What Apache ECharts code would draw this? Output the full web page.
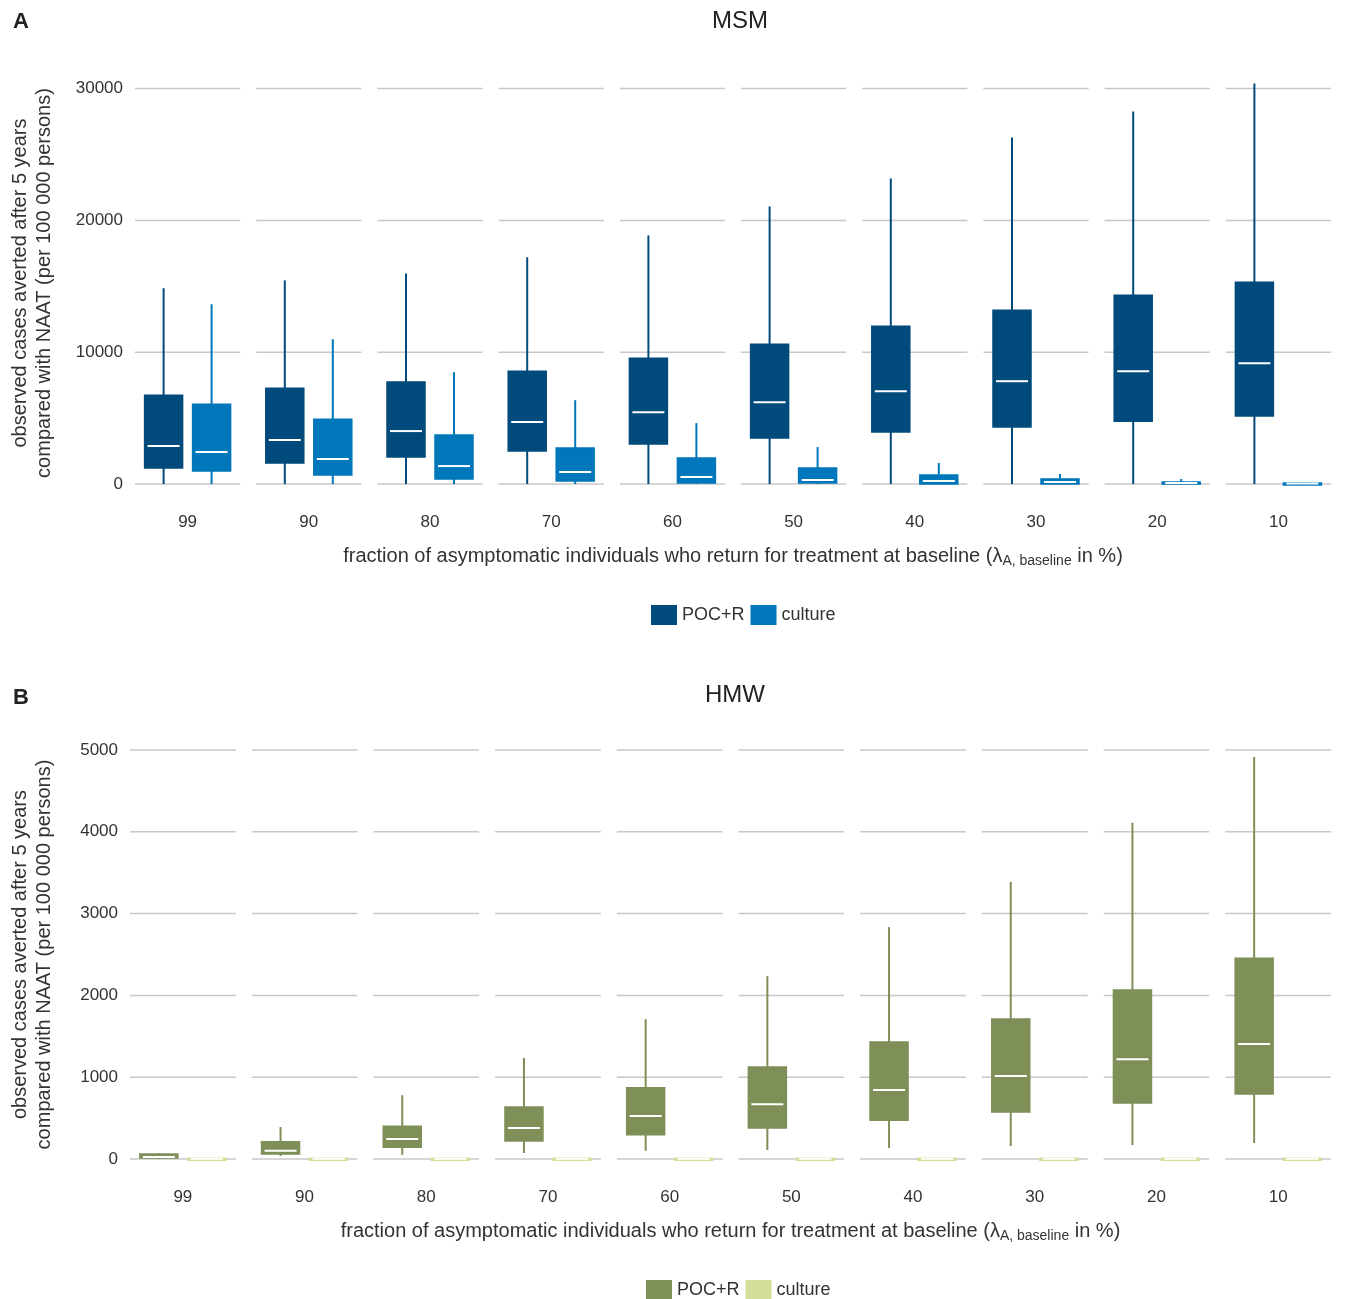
<!DOCTYPE html>
<html><head><meta charset="utf-8">
<script src="https://cdn.jsdelivr.net/npm/echarts@6/dist/echarts.min.js"></script>
<style>html,body{margin:0;background:#fff}#c{width:1347px;height:1299px}</style>
</head><body><div id="c"></div>
<script>
const categories = ['99', '90', '80', '70', '60', '50', '40', '30', '20', '10'];
// [min, q1, median, q3, max]
const msmPoc = [
  [0, 1210, 2880, 6740, 14850], [0, 1590, 3330, 7270, 15450], [0, 2045, 4015, 7730, 15980],
  [0, 2500, 4700, 8560, 17200], [0, 3030, 5450, 9545, 18860], [0, 3485, 6210, 10600, 21060],
  [0, 3940, 7045, 11970, 23180], [0, 4320, 7800, 13180, 26290], [0, 4770, 8560, 14320, 28260],
  [0, 5150, 9170, 15300, 30380]
];
const msmCulture = [
  [0, 985, 2420, 6060, 13640], [0, 680, 1890, 4920, 10985], [0, 380, 1360, 3710, 8480],
  [0, 230, 910, 2730, 6360], [0, 75, 530, 1970, 4620], [0, 75, 300, 1210, 2800],
  [0, 0, 230, 680, 1590], [0, 0, 150, 380, 760], [0, 0, 75, 150, 380], [0, 0, 40, 75, 150]
];
const hmwPoc = [
  [0, 12, 25, 60, 73], [37, 60, 100, 210, 390], [50, 145, 245, 400, 780],
  [73, 220, 380, 635, 1235], [100, 295, 525, 870, 1710], [110, 380, 670, 1125, 2235],
  [135, 475, 845, 1430, 2835], [160, 575, 1015, 1710, 3385], [170, 685, 1220, 2065, 4110],
  [195, 795, 1405, 2455, 4915]
];
const hmwCulture = categories.map(() => [0, 0, 4, 8, 12]);
const msmTicks = [0, 10000, 20000, 30000];
const hmwTicks = [0, 1000, 2000, 3000, 4000, 5000];

const yName = 'observed cases averted after 5 years\ncompared with NAAT (per 100 000 persons)';
const xName = 'fraction of asymptomatic individuals who return for treatment at baseline (λ{sub|A, baseline} in %)';

function boxRender(offset) {
  return function (params, api) {
    const x = api.value(0);
    const c = api.coord([x, 0])[0] + offset;
    const w = 38;
    const p = [1, 2, 3, 4, 5].map(i => api.coord([x, api.value(i)])[1]);
    const col = api.visual('color');
    return {
      type: 'group', children: [
        { type: 'line', shape: { x1: c, y1: p[0], x2: c, y2: p[4] }, style: { stroke: col, lineWidth: 2 } },
        { type: 'rect', shape: { x: c - w / 2, y: p[3], width: w, height: Math.max(p[1] - p[3], 2) },
          style: { fill: col, stroke: col, lineWidth: 1.5 } },
        { type: 'line', shape: { x1: c - w / 2 + 3, y1: p[2], x2: c + w / 2 - 3, y2: p[2] }, style: { stroke: '#fff', lineWidth: 2 } }
      ]
    };
  };
}
function gridRender(ticks) {
  return function (params, api) {
    const x = api.value(0);
    const c = api.coord([x, 0])[0];
    const bw = api.size([1, 0])[0];
    return {
      type: 'group', children: ticks.map(t => {
        const y = api.coord([x, t])[1];
        return { type: 'line', shape: { x1: c - bw / 2 + 8, y1: y, x2: c + bw / 2 - 8, y2: y }, style: { stroke: '#c8c8c8', lineWidth: 1.5 } };
      })
    };
  };
}
const toData = arr => arr.map((d, i) => [i].concat(d));

const axisLabel = { color: '#333', fontSize: 17 };
function panel(i, top, height, left, ticks, max, interval, poc, cul, colors) {
  return {
    grid: { left: left, right: 8, top: top, height: height, containLabel: false, outerBoundsMode: 'none' },
    xAxis: {
      type: 'category', data: categories, gridIndex: i,
      axisLine: { show: false }, axisTick: { show: false },
      axisLabel: Object.assign({ margin: 30 }, axisLabel),
      name: xName, nameLocation: 'middle', nameGap: 60,
      nameTextStyle: { color: '#333', fontSize: 20, rich: { sub: { fontSize: 14, padding: [10, 0, 0, 0], color: '#333' } } }
    },
    yAxis: {
      type: 'value', gridIndex: i, min: 0, max: max, interval: interval,
      axisLine: { show: false }, axisTick: { show: false }, splitLine: { show: false },
      axisLabel: Object.assign({ margin: 4, formatter: v => String(v) }, axisLabel),
      name: yName, nameLocation: 'middle', nameRotate: 90, nameGap: left - 56,
      nameTextStyle: { color: '#333', fontSize: 20, lineHeight: 24 }
    },
    series: [
      { type: 'custom', xAxisIndex: i, yAxisIndex: i, renderItem: gridRender(ticks), data: toData(poc), silent: true, z: 1 },
      { type: 'custom', name: 'POC+R', xAxisIndex: i, yAxisIndex: i, renderItem: boxRender(-24), data: toData(poc), itemStyle: { color: colors[0] }, z: 2 },
      { type: 'custom', name: 'culture', xAxisIndex: i, yAxisIndex: i, renderItem: boxRender(24), data: toData(cul), itemStyle: { color: colors[1] }, z: 2 }
    ]
  };
}
const A = panel(0, 82, 402, 127, msmTicks, 30500, 10000, msmPoc, msmCulture, ['#004a7c', '#0077bb']);
const B = panel(1, 750, 409, 122, hmwTicks, 5000, 1000, hmwPoc, hmwCulture, ['#7f8f58', '#d3df9a']);
B.series[1].name = 'POC+R '; B.series[2].name = 'culture ';

const chart = echarts.init(document.getElementById('c'));
const legendBase = { itemWidth: 26, itemHeight: 20, icon: 'rect', itemGap: 6, textStyle: { color: '#333', fontSize: 18 },
  formatter: n => n.trim() };
chart.setOption({
  animation: false,
  title: [
    { text: 'MSM', left: 735, top: 4, textAlign: 'center', textStyle: { fontWeight: 'normal', fontSize: 24, color: '#222' } },
    { text: 'HMW', left: 730, top: 678, textAlign: 'center', textStyle: { fontWeight: 'normal', fontSize: 24, color: '#222' } },
    { text: 'A', left: 8, top: 6, textStyle: { fontSize: 22, color: '#222' } },
    { text: 'B', left: 8, top: 682, textStyle: { fontSize: 22, color: '#222' } }
  ],
  legend: [
    Object.assign({ data: ['POC+R', 'culture'], left: 646, top: 600 }, legendBase),
    Object.assign({ data: ['POC+R ', 'culture '], left: 641, top: 1275 }, legendBase)
  ],
  grid: [A.grid, B.grid],
  xAxis: [A.xAxis, B.xAxis],
  yAxis: [A.yAxis, B.yAxis],
  series: A.series.concat(B.series)
});
</script></body></html>
